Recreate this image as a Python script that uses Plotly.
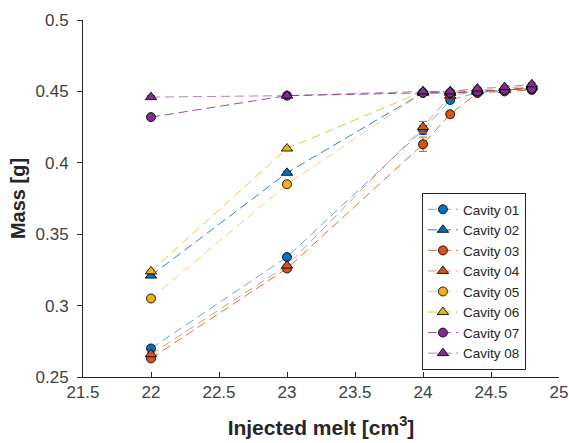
import plotly.graph_objects as go

injected = [22, 23, 24, 24.2, 24.4, 24.6, 24.8]

cavity_names = ["Cavity 01", "Cavity 02", "Cavity 03", "Cavity 04",
                "Cavity 05", "Cavity 06", "Cavity 07", "Cavity 08"]

c01 = [0.270, 0.334, 0.423, 0.444, 0.449, 0.451, 0.452]
c02 = [0.321, 0.393, 0.449, 0.449, 0.450, 0.451, 0.453]
c03 = [0.263, 0.326, 0.413, 0.434, 0.449, 0.450, 0.451]
c04 = [0.266, 0.328, 0.425, 0.447, 0.450, 0.451, 0.453]
c05 = [0.305, 0.385, 0.449, 0.449, 0.450, 0.451, 0.452]
c06 = [0.324, 0.410, 0.450, 0.450, 0.451, 0.452, 0.454]
c07 = [0.432, 0.447, 0.449, 0.449, 0.450, 0.451, 0.452]
c08 = [0.446, 0.447, 0.450, 0.450, 0.452, 0.453, 0.455]

e01 = [0.001, 0.001, 0.003, 0.002, 0.001, 0.001, 0.001]
e02 = [0.001, 0.001, 0.001, 0.001, 0.001, 0.001, 0.001]
e03 = [0.001, 0.001, 0.005, 0.002, 0.001, 0.001, 0.001]
e04 = [0.001, 0.001, 0.004, 0.002, 0.001, 0.001, 0.001]
e05 = [0.001, 0.001, 0.001, 0.001, 0.001, 0.001, 0.001]
e06 = [0.001, 0.001, 0.001, 0.001, 0.001, 0.001, 0.001]
e07 = [0.001, 0.001, 0.001, 0.001, 0.001, 0.001, 0.001]
e08 = [0.001, 0.001, 0.001, 0.001, 0.001, 0.001, 0.001]

values = [c01, c02, c03, c04, c05, c06, c07, c08]
errors = [e01, e02, e03, e04, e05, e06, e07, e08]

blue = (0, 114, 189)
orange = (217, 83, 25)
yellow = (237, 177, 32)
purple = (126, 47, 142)
base_colors = [blue, blue, orange, orange, yellow, yellow, purple, purple]
line_alpha = [0.6, 0.85, 0.85, 0.6, 0.6, 0.85, 0.85, 0.6]
symbols = ["circle", "triangle-up"] * 4

FONT = "Liberation Sans, Arial, sans-serif"

fig = go.Figure()
for name, y, err, col, a, sym in zip(cavity_names, values, errors, base_colors, line_alpha, symbols):
    rgb = "rgb(%d,%d,%d)" % col
    rgba = "rgba(%d,%d,%d,%.2f)" % (col[0], col[1], col[2], a)
    fig.add_trace(go.Scatter(
        x=injected, y=y, name=name, mode="lines+markers",
        line=dict(color=rgba, width=1, dash="9px,5px"),
        marker=dict(symbol=sym, size=9 if sym == "circle" else 10, color=rgb,
                    line=dict(color="rgba(0,0,0,0.85)", width=1)),
        error_y=dict(type="data", array=err, visible=True, color=rgb,
                     thickness=1, width=4),
    ))

axis_common = dict(
    showgrid=False, zeroline=False, showline=True, linecolor="#262626",
    linewidth=1, ticklen=5, tickcolor="#262626", mirror=False, automargin=False,
    tickfont=dict(family=FONT, size=17, color="#404040"),
)

fig.update_layout(
    width=569, height=443,
    margin=dict(l=83, r=10, t=20, b=66),
    plot_bgcolor="white", paper_bgcolor="white",
    font=dict(family=FONT, color="#262626"),
    xaxis=dict(range=[21.5, 25], tickvals=[21.5, 22, 22.5, 23, 23.5, 24, 24.5, 25],
               ticktext=["21.5", "22", "22.5", "23", "23.5", "24", "24.5", "25"],
               ticks="inside",
               title=dict(text="<b>Injected melt [cm<sup>3</sup>]</b>", standoff=18,
                          font=dict(size=21, color="#262626")),
               **axis_common),
    yaxis=dict(range=[0.25, 0.5], tickvals=[0.25, 0.3, 0.35, 0.4, 0.45, 0.5],
               ticktext=["0.25", "0.3", "0.35", "0.4", "0.45", "0.5"],
               ticks="outside", ticklabelstandoff=5,
               title=dict(text="<b>Mass [g]</b>", standoff=4,
                          font=dict(size=20, color="#262626")),
               **axis_common),
    legend=dict(x=0.712, y=0.0196, xanchor="left", yanchor="bottom",
                bgcolor="white", bordercolor="#262626", borderwidth=1,
                font=dict(size=13.5, color="#262626"), tracegroupgap=0),
    showlegend=True,
)

fig.write_html("out.html")
